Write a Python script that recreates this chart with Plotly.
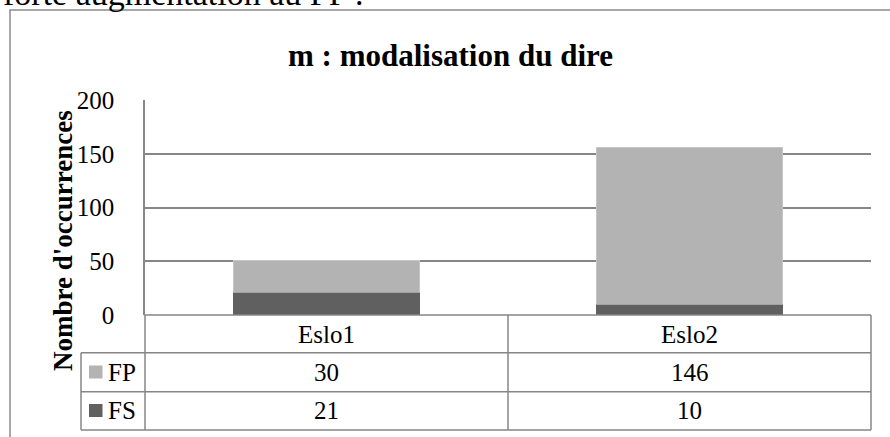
import plotly.graph_objects as go

categories = ["Eslo1", "Eslo2"]
series_names = ["FS", "FP"]
fs_values = [21, 10]
fp_values = [30, 146]
y_ticks = [0, 50, 100, 150, 200]
title_text = "m : modalisation du dire"
y_title = "Nombre d'occurrences"
above_text = "forte augmentation au FP ."

W, H = 890, 437
L, R, T, B = 145, 871, 100, 315
FONT = "Liberation Serif, Times New Roman, serif"
GRID = "#868686"
C_FS = "#606060"
C_FP = "#b3b3b3"


def px(x):
    return (x - L) / (R - L)


def py(y):
    return (B - y) / (B - T)


fig = go.Figure()
fig.add_bar(x=categories, y=fs_values, name="FS", marker_color=C_FS, width=0.515,
            marker_line_width=0)
fig.add_bar(x=categories, y=fp_values, name="FP", marker_color=C_FP, width=0.515,
            marker_line_color="#d0d0d0", marker_line_width=0.6)

shapes = []
line = dict(color=GRID, width=1.5)
# outer chart border (extends past the visible window)
shapes.append(dict(type="rect", xref="paper", yref="paper", x0=px(10), y0=py(10), x1=px(905), y1=py(455),
                   line=dict(color="#8a8a8a", width=1.5), layer="below"))
# table lines
row_y = [315, 352.7, 391.7, 430]
col_x = [81, 145, 508, 871]
shapes.append(dict(type="line", xref="paper", yref="paper", x0=px(145), x1=px(871), y0=py(315), y1=py(315), line=line))
for yy in row_y[1:]:
    shapes.append(dict(type="line", xref="paper", yref="paper", x0=px(81), x1=px(871), y0=py(yy), y1=py(yy), line=line))
shapes.append(dict(type="line", xref="paper", yref="paper", x0=px(81), x1=px(81), y0=py(352.7), y1=py(430), line=line))
for xx in col_x[1:]:
    shapes.append(dict(type="line", xref="paper", yref="paper", x0=px(xx), x1=px(xx), y0=py(315), y1=py(430), line=line))
# legend keys
for yc, col in [(372, C_FP), (410.5, C_FS)]:
    shapes.append(dict(type="rect", xref="paper", yref="paper", x0=px(89), x1=px(102.5), y0=py(yc - 6.5), y1=py(yc + 6.5),
                       line=dict(width=0), fillcolor=col))

ann = []
tf = dict(family=FONT, size=25, color="black")
common = dict(xref="paper", yref="paper", showarrow=False, xanchor="center", yanchor="middle")
for i, c in enumerate(categories):
    xc = (col_x[1 + i] + col_x[2 + i]) / 2
    ann.append(dict(common, x=px(xc), y=py(334), text=c, font=tf))
    ann.append(dict(common, x=px(xc), y=py(372), text=str(fp_values[i]), font=tf))
    ann.append(dict(common, x=px(xc), y=py(410.5), text=str(fs_values[i]), font=tf))
ann.append(dict(common, x=px(106), y=py(372), text="FP", font=tf, xanchor="left"))
ann.append(dict(common, x=px(106), y=py(410.5), text="FS", font=tf, xanchor="left"))
ann.append(dict(common, x=px(450.5), y=py(56), text="<b>" + title_text + "</b>",
                font=dict(family=FONT, size=31, color="black")))
ann.append(dict(common, x=px(63), y=py(241), text="<b>" + y_title + "</b>",
                textangle=-90, font=dict(family=FONT, size=27, color="black")))
ann.append(dict(common, x=px(1), y=py(14.5), text=above_text,
                xanchor="left", yanchor="bottom", font=dict(family=FONT, size=34, color="black")))

fig.update_layout(
    width=W, height=H,
    margin=dict(l=L, r=W - R, t=T, b=H - B, pad=0),
    barmode="stack",
    showlegend=False,
    plot_bgcolor="white", paper_bgcolor="white",
    font=dict(family=FONT, size=25, color="black"),
    xaxis=dict(showticklabels=False, showgrid=False, zeroline=False, showline=False, range=[-0.5, 1.5]),
    yaxis=dict(range=[0, 200], tickvals=y_ticks, showgrid=True, gridcolor=GRID, gridwidth=1.5,
               zeroline=False, showline=True, linecolor=GRID, linewidth=1.5,
               ticks="", ticklabelstandoff=24, tickfont=dict(family=FONT, size=25, color="black")),
    shapes=shapes,
    annotations=ann,
)
fig.write_html("out.html", config={"displayModeBar": False},
               post_script="document.body.style.margin='0';document.body.style.overflow='hidden';")
